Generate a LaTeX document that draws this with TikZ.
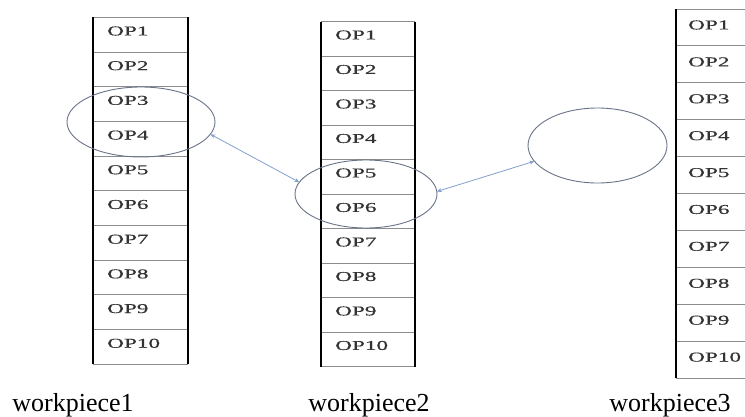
\documentclass[tikz,border=0pt]{standalone}
\usepackage{fontspec}
\setmainfont{Liberation Serif}
\newfontfamily\opfont[FakeStretch=1.72,FakeBold=0.6]{Liberation Serif}
\usetikzlibrary{shapes.geometric,arrows.meta}
\definecolor{ringcol}{RGB}{105,115,135}
\definecolor{linkcol}{RGB}{130,160,205}

\begin{document}
\begin{tikzpicture}[x=1pt,y=-1pt]
	\tikzset{op/.style = {anchor=west, inner sep=0, text=black!80, font=\opfont\fontsize{13.5}{14}\selectfont},
		rowline/.style = {draw=black!45, line width=1pt},
		colline/.style = {draw=black, line width=1.2pt},
		ring/.style = {shape=ellipse, draw=ringcol, line width=0.9pt, inner sep=0, outer sep=0},
		link/.style = {draw=linkcol, line width=0.8pt, {Stealth[length=5pt,width=4pt]}-{Stealth[length=5pt,width=4pt]}},
		piece/.style = {anchor=base, inner sep=0, font=\fontsize{26}{28}\selectfont}}
	
	\clip (0,0) rectangle (745,416);
	
	% workpiece 1
	\foreach \i in {0,...,10}
		\draw[rowline] (93,17.3+34.7*\i) -- (188,17.3+34.7*\i);
	\draw[colline] (93,17.3) -- (93,364);
	\draw[colline] (188,17.3) -- (188,364);
	\foreach \i in {1,...,10}
		\node[op] (a\i) at (107,31+34.7*\i-34.7) {OP\i};
	
	% workpiece 2
	\foreach \i in {0,...,10}
		\draw[rowline] (321,21.7+34.5*\i) -- (415,21.7+34.5*\i);
	\draw[colline] (321,21.7) -- (321,366.7);
	\draw[colline] (415,21.7) -- (415,366.7);
	\foreach \i in {1,...,10}
		\node[op] (b\i) at (335,35+34.5*\i-34.5) {OP\i};
	
	% workpiece 3 (cut at the right edge)
	\foreach \i in {0,...,10}
		\draw[rowline] (676,9+36.9*\i) -- (760,9+36.9*\i);
	\draw[colline] (676,9) -- (676,378);
	\foreach \i in {1,...,10}
		\node[op] (c\i) at (688,25+36.9*\i-36.9) {OP\i};
	
	% rings
	\node[ring, minimum width=148pt, minimum height=70pt] (e1) at (141,122) {};
	\node[ring, minimum width=142pt, minimum height=68pt] (e2) at (366,194) {};
	\node[ring, minimum width=139pt, minimum height=75pt] (e3) at (597.5,145.5) {};
	
	\draw[link] (e1.-10) -- (e2.170);
	\draw[link] (e2.2) -- (e3.194);
	
	\node[piece] (l1) at (73,411) {workpiece1};
	\node[piece] (l2) at (369,411) {workpiece2};
	\node[piece] (l3) at (670,411) {workpiece3};
	
\end{tikzpicture}
\end{document}
